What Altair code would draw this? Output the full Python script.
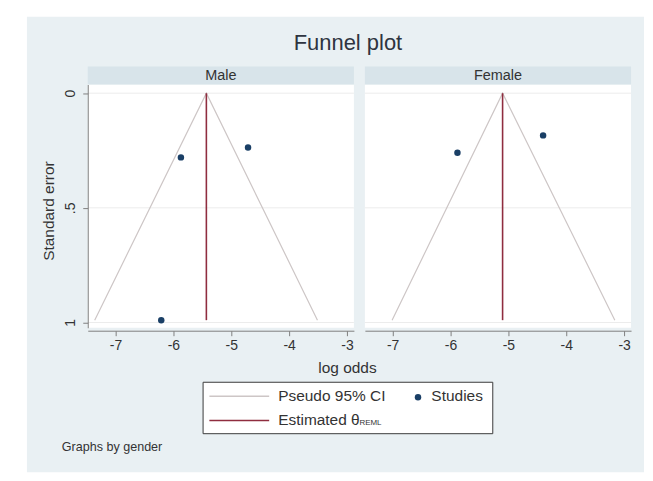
import altair as alt
import pandas as pd

# ---------------- data ----------------
panels = ["Male", "Female"]
theta = [-5.43, -5.10]            # estimated theta (REML) per panel
ci_left = [-7.36, -7.01]          # pseudo 95% CI lower bound at the funnel base
ci_right = [-3.51, -3.16]         # pseudo 95% CI upper bound at the funnel base
ci_base_se = [0.99, 0.99]         # standard error at the funnel base

study_panel = ["Male", "Male", "Male", "Female", "Female"]
study_logodds = [-5.87, -4.71, -6.21, -5.88, -4.40]
study_se = [0.28, 0.237, 0.99, 0.26, 0.184]

x_ticks = [-7, -6, -5, -4, -3]
y_ticks = [0, 0.5, 1]
x_domain = [-7.48, -2.88]
y_domain = [-0.038, 1.023]

title_text = "Funnel plot"
x_title = "log odds"
y_title = "Standard error"
legend_ci = "Pseudo 95% CI"
legend_studies = "Studies"
legend_theta = "Estimated θ"
legend_theta_sub = "REML"
note_text = "Graphs by gender"

# ---------------- style ----------------
FONT = "Liberation Sans"
BG = "#e9f0f3"
STRIP = "#d8e4ea"
CI_COLOR = "#cdc6c6"
THETA_COLOR = "#8f2d3f"
PT_COLOR = "#1a3f66"
AXIS_COLOR = "#808080"
TEXT_COLOR = "#333333"
W, H = 267, 244

one = pd.DataFrame({"k": [0]})


def xenc(axis):
    return alt.X("x:Q", scale=alt.Scale(domain=x_domain, nice=False, zero=False), axis=axis)


def yenc(axis):
    return alt.Y("y:Q", scale=alt.Scale(domain=y_domain, nice=False, zero=False, reverse=True), axis=axis)


x_axis = alt.Axis(values=x_ticks, labelExpr="toString(datum.value)", title=None, grid=False,
                  domainColor=AXIS_COLOR, tickColor=AXIS_COLOR, tickSize=5, offset=3,
                  labelFont=FONT, labelFontSize=14, labelColor=TEXT_COLOR, labelPadding=3,
                  zindex=1)
y_axis_left = alt.Axis(values=y_ticks, labelExpr="replace(toString(datum.value), '0.', '.')",
                       labelAngle=270, labelAlign="center", labelBaseline="bottom",
                       title=None, grid=False, domainColor=AXIS_COLOR, tickColor=AXIS_COLOR,
                       tickSize=5, labelFont=FONT, labelFontSize=14, labelColor=TEXT_COLOR,
                       labelPadding=5, zindex=1)


def vrect(x1, x2, y1, y2, **kw):
    return alt.Chart(one).mark_rect(**kw).encode(
        x=alt.value(x1), x2=alt.value(x2), y=alt.value(y1), y2=alt.value(y2))


def vtext(txt, x, y, **kw):
    return alt.Chart(one).mark_text(text=txt, font=FONT, **kw).encode(
        x=alt.value(x), y=alt.value(y))


def vline(x1, x2, y, **kw):
    return alt.Chart(one).mark_rule(**kw).encode(
        x=alt.value(x1), x2=alt.value(x2), y=alt.value(y))


def panel(i, left):
    g = panels[i]
    ya = y_axis_left if left else None
    layers = []
    if left:
        # light page background of the whole graph
        layers.append(vrect(-61, 558, -68, 389, fill=BG))
    layers.append(vrect(0, W, 0, H, fill="white"))
    layers.append(vrect(0, W, -18, 0, fill=STRIP))
    layers.append(vtext(g, W / 2, -9, fontSize=14.5, color=TEXT_COLOR, baseline="middle", align="center"))

    grid_df = pd.DataFrame({"y": y_ticks})
    layers.append(alt.Chart(grid_df).mark_rule(color="#ececec", strokeWidth=1).encode(
        y=yenc(ya), x=alt.value(0), x2=alt.value(W)))

    funnel_df = pd.DataFrame({
        "x": [ci_left[i], theta[i], ci_right[i]],
        "y": [ci_base_se[i], 0, ci_base_se[i]],
        "o": [0, 1, 2],
    })
    layers.append(alt.Chart(funnel_df).mark_line(color=CI_COLOR, strokeWidth=1.2).encode(
        x=xenc(x_axis), y=yenc(ya), order="o:Q"))

    theta_df = pd.DataFrame({"x": [theta[i]], "y": [0], "y2": [ci_base_se[i]]})
    layers.append(alt.Chart(theta_df).mark_rule(color=THETA_COLOR, strokeWidth=1.6).encode(
        x=xenc(x_axis), y=yenc(ya), y2="y2:Q"))

    st = pd.DataFrame({"g": study_panel, "x": study_logodds, "y": study_se})
    st = st[st["g"] == g]
    layers.append(alt.Chart(st).mark_circle(color=PT_COLOR, opacity=1, size=42).encode(
        x=xenc(x_axis), y=yenc(ya)))

    if left:
        layers.append(vtext(title_text, 261, -35, fontSize=22, color="#2e3440",
                            align="center", baseline="alphabetic"))
        layers.append(vtext(y_title, -39, 127, fontSize=15.5, color=TEXT_COLOR, angle=270,
                            align="center", baseline="middle"))
        layers.append(vtext(x_title, 260.5, 284, fontSize=15.5, color=TEXT_COLOR,
                            align="center", baseline="middle"))
        # legend box
        layers.append(vrect(115.7, 406.3, 298.7, 350.3, fill="white", stroke="#3a3a3a", strokeWidth=1))
        layers.append(vline(122, 182, 312.7, color=CI_COLOR, strokeWidth=1.5))
        layers.append(vtext(legend_ci, 191, 313, fontSize=15.5, color=TEXT_COLOR,
                            align="left", baseline="middle"))
        layers.append(alt.Chart(one).mark_circle(color=PT_COLOR, opacity=1, size=42).encode(
            x=alt.value(331.3), y=alt.value(313.7)))
        layers.append(vtext(legend_studies, 344.7, 313, fontSize=15.5, color=TEXT_COLOR,
                            align="left", baseline="middle"))
        layers.append(vline(122, 182, 337, color=THETA_COLOR, strokeWidth=1.6))
        layers.append(vtext(legend_theta, 191, 337, fontSize=15.5, color=TEXT_COLOR,
                            align="left", baseline="middle"))
        layers.append(vtext(legend_theta_sub, 272.5, 340, fontSize=8, color=TEXT_COLOR,
                            align="left", baseline="middle"))
        layers.append(vtext(note_text, -26, 364, fontSize=12.6, color=TEXT_COLOR,
                            align="left", baseline="middle"))

    return alt.layer(*layers).properties(width=W, height=H)


chart = alt.hconcat(panel(0, True), panel(1, False), spacing=11, bounds="flush").resolve_scale(
    x="independent", y="independent"
).properties(
    padding={"left": 18, "top": 7, "right": 0, "bottom": 0},
    background="white",
).configure_view(stroke="transparent")

chart.save("out.html", embed_options={"renderer": "svg", "actions": False})
